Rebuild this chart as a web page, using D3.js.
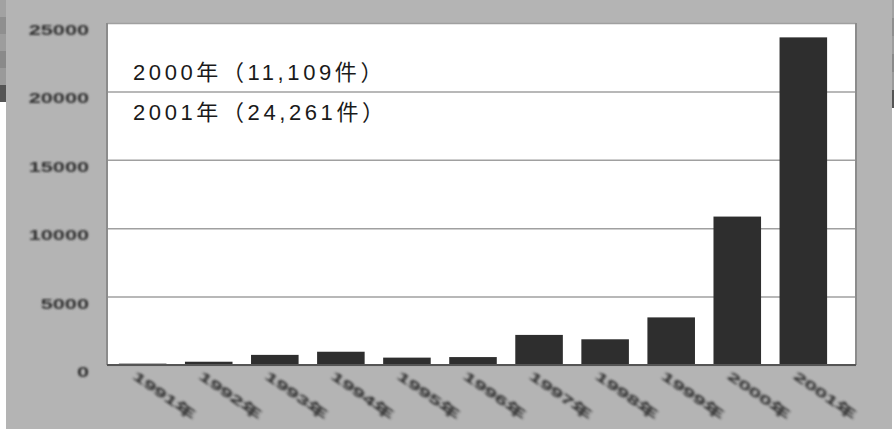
<!DOCTYPE html>
<html>
<head>
<meta charset="utf-8">
<script src="https://cdn.jsdelivr.net/npm/d3@7"></script>
<style>
  html, body { margin: 0; padding: 0; background: #fff; }
  svg { display: block; }
</style>
</head>
<body>
<div id="chart"></div>
<script>
// Data
const years = ['1991年', '1992年', '1993年', '1994年', '1995年', '1996年',
               '1997年', '1998年', '1999年', '2000年', '2001年'];
const counts = [100, 240, 740, 970, 540, 580, 2200, 1880, 3480, 10850, 23950];
const yTicks = [0, 5000, 10000, 15000, 20000, 25000];
const notes = ['2000年（11,109件）', '2001年（24,261件）'];

const width = 894, height = 429;
const margin = { top: 23, right: 38, bottom: 64, left: 107 };
const innerW = width - margin.left - margin.right;
const innerH = height - margin.top - margin.bottom;

const svg = d3.select('#chart').append('svg')
  .attr('width', width)
  .attr('height', height);

const defs = svg.append('defs');
defs.append('filter').attr('id', 'soft')
  .append('feGaussianBlur').attr('stdDeviation', 0.55);
defs.append('filter').attr('id', 'softer')
  .append('feGaussianBlur').attr('stdDeviation', 0.8);

// grey backdrop
svg.append('rect')
  .attr('x', 6).attr('y', 0)
  .attr('width', 886).attr('height', height)
  .attr('fill', '#b4b4b4');

// scanned edge strips
const edgeStripes = ['#a2a2a2', '#8f8f8f', '#9d9d9d', '#8a8a8a', '#9a9a9a', '#555'];
edgeStripes.forEach((c, i) => {
  svg.append('rect').attr('x', 0).attr('y', i * 17)
    .attr('width', 6).attr('height', 17).attr('fill', c);
  svg.append('rect').attr('x', 892).attr('y', i * 18)
    .attr('width', 2).attr('height', 18).attr('fill', c);
});

const g = svg.append('g')
  .attr('transform', `translate(${margin.left},${margin.top})`);

// plot area
g.append('rect')
  .attr('width', innerW).attr('height', innerH)
  .attr('fill', '#fff');

const x = d3.scaleBand()
  .domain(years)
  .range([0, 732])
  .paddingInner(0.28)
  .paddingOuter(0.18);

const y = d3.scaleLinear()
  .domain([0, 25000])
  .range([innerH, 0]);

// grid lines
g.append('g')
  .call(d3.axisLeft(y).tickValues(yTicks).tickSize(-innerW).tickFormat(''))
  .call(s => s.select('.domain').remove())
  .selectAll('line')
  .attr('stroke', '#a0a0a0')
  .attr('stroke-width', 1.5);

// frame: left / right edges
g.append('line').attr('x1', 0).attr('x2', 0).attr('y1', 0).attr('y2', innerH)
  .attr('stroke', '#8c8c8c').attr('stroke-width', 2);
g.append('line').attr('x1', innerW).attr('x2', innerW).attr('y1', 0).attr('y2', innerH)
  .attr('stroke', '#8c8c8c').attr('stroke-width', 2);

// bars
g.selectAll('.bar')
  .data(years.map((yr, i) => ({ yr, v: counts[i] })))
  .join('rect')
  .attr('class', 'bar')
  .attr('x', d => x(d.yr))
  .attr('y', d => y(d.v))
  .attr('width', x.bandwidth())
  .attr('height', d => innerH - y(d.v))
  .attr('fill', '#2f2f2f')
  .attr('filter', 'url(#soft)');

// base line
g.append('line').attr('x1', 0).attr('x2', innerW).attr('y1', innerH).attr('y2', innerH)
  .attr('stroke', '#555').attr('stroke-width', 2);

// y tick labels (stretched, blurry like the scan)
g.selectAll('.ylab')
  .data(yTicks)
  .join('text')
  .attr('class', 'ylab')
  .attr('transform', d => `translate(-18,${y(d) + 12}) scale(1.55,1)`)
  .attr('text-anchor', 'end')
  .style('font-family', '"Liberation Sans", Arial, sans-serif')
  .style('font-size', '14px')
  .style('font-weight', 'bold')
  .style('fill', '#333')
  .attr('filter', 'url(#softer)')
  .text(d => d);

// x tick labels, rotated
g.selectAll('.xlab')
  .data(years)
  .join('text')
  .attr('class', 'xlab')
  .attr('transform', d => `translate(${x(d) + x.bandwidth() / 2 - 5},${innerH + 5}) rotate(35) scale(1.75,1)`)
  .attr('dy', '0.75em')
  .style('font-family', '"Liberation Sans", "Noto Sans CJK JP", sans-serif')
  .style('font-size', '13px')
  .style('font-weight', 'bold')
  .style('fill', '#2a2a2a')
  .attr('filter', 'url(#softer)')
  .text(d => d);

// annotations
g.selectAll('.note')
  .data(notes)
  .join('text')
  .attr('class', 'note')
  .attr('x', 26)
  .attr('y', (d, i) => 57 + i * 40)
  .style('font-family', '"Liberation Sans", "Noto Sans CJK JP", sans-serif')
  .style('font-size', '22px')
  .style('letter-spacing', '3.6px')
  .style('fill', '#1a1a1a')
  .text(d => d);
</script>
</body>
</html>
